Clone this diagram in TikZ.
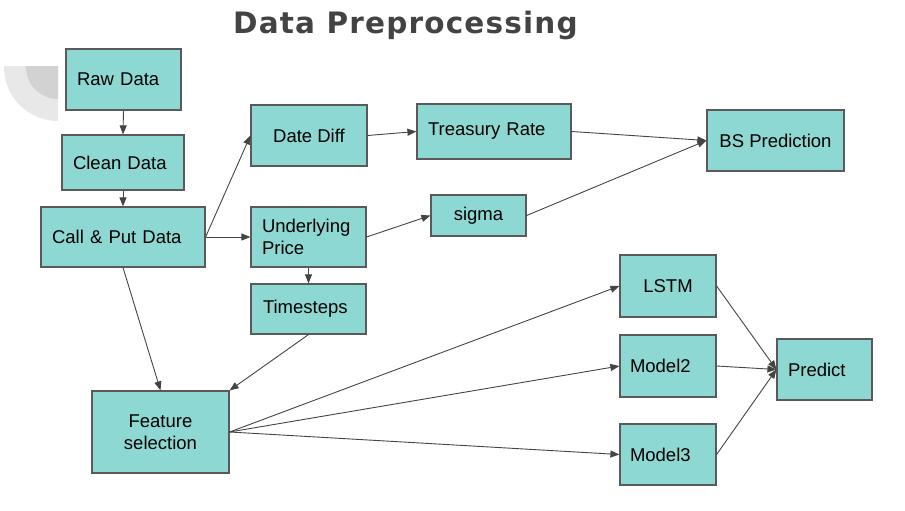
\documentclass[tikz,border=0pt]{standalone}
\usepackage{fontspec}
\setmainfont{Liberation Sans}
\newfontfamily\titlefont{DejaVu Sans}[LetterSpace=4]
\usetikzlibrary{arrows.meta}
\definecolor{boxfill}{HTML}{8DD8D2}
\definecolor{boxline}{HTML}{5A5A5A}
\definecolor{arrowcol}{HTML}{444444}
\definecolor{titlecol}{HTML}{434343}
\definecolor{arclight}{HTML}{E8E8E8}
\definecolor{arcdark}{HTML}{D2D2D2}
\begin{document}
\begin{tikzpicture}[x=1pt,y=-1pt,
  box/.style={draw=boxline, line width=1.2pt, fill=boxfill, inner ysep=0pt,
    font=\fontsize{18.5}{21.7}\selectfont, text=black, align=center},
  lbox/.style n args={2}{box, align=left, inner xsep=#1, text width=#2},
  conn/.style={draw=arrowcol, line width=0.9pt, -{Triangle[length=9pt,width=7pt]}}]
\useasboundingbox (0,0) rectangle (905,511);
% decorative arc
\begin{scope}
  \clip (4,67) rectangle (58,121);
  \fill[arclight] (58,67) circle[radius=54pt];
  \fill[arcdark] (58,67) circle[radius=32pt];
\end{scope}
% title
\node[anchor=base west, inner sep=0pt, text=titlecol, font=\titlefont\bfseries\fontsize{29.5}{35}\selectfont] (title) at (233,33.5) {Data Preprocessing};
% boxes
\node[lbox={11pt}{93pt}, minimum height=61pt] (raw) at (123.5,79.5) {Raw Data};
\node[lbox={11pt}{100pt}, minimum height=55pt] (clean) at (123,162.5) {Clean Data};
\node[lbox={11pt}{142pt}, minimum height=60pt] (call) at (123,237) {Call \& Put Data};
\node[box, minimum width=116pt, minimum height=61pt] (datediff) at (309,135.5) {Date Diff};
\node[lbox={11pt}{132pt}, minimum height=55pt] (treasury) at (494,131.5) {Treasury Rate};
\node[lbox={11pt}{93pt}, minimum height=60pt] (under) at (308.5,237) {Underlying\\Price};
\node[box, minimum width=95pt, minimum height=41pt] (sigma) at (478.5,215.5) {sigma};
\node[lbox={12pt}{91pt}, minimum height=50pt] (timesteps) at (308.5,309) {Timesteps};
\node[box, minimum width=137pt, minimum height=61pt] (bs) at (775.5,140.5) {BS Prediction};
\node[box, minimum width=96pt, minimum height=62pt] (lstm) at (668,286) {LSTM};
\node[lbox={10pt}{76pt}, minimum height=62pt] (model2) at (668,366) {Model2};
\node[lbox={10pt}{76pt}, minimum height=61pt] (model3) at (668,454.5) {Model3};
\node[lbox={11pt}{73pt}, minimum height=61pt] (predict) at (824.5,369.5) {Predict};
\node[box, minimum width=137pt, minimum height=82pt] (feature) at (160.5,432) {Feature\\selection};
% connectors
\draw[conn] (raw.south) -- (clean.north);
\draw[conn] (clean.south) -- (call.north);
\draw[conn] (call.east) -- (datediff.west);
\draw[conn] (call.east) -- (under.west);
\draw[conn] (datediff.east) -- (treasury.west);
\draw[conn] (treasury.east) -- (bs.west);
\draw[conn] (sigma.east) -- (bs.west);
\draw[conn] (under.east) -- (sigma.west);
\draw[conn] (under.south) -- (timesteps.north);
\draw[conn] (call.south) -- (feature.north);
\draw[conn] (timesteps.south) -- (feature.north east);
\draw[conn] (feature.east) -- (lstm.west);
\draw[conn] (feature.east) -- (model2.west);
\draw[conn] (feature.east) -- (model3.west);
\draw[conn] (lstm.east) -- (predict.west);
\draw[conn] (model2.east) -- (predict.west);
\draw[conn] (model3.east) -- (predict.west);
\end{tikzpicture}
\end{document}
